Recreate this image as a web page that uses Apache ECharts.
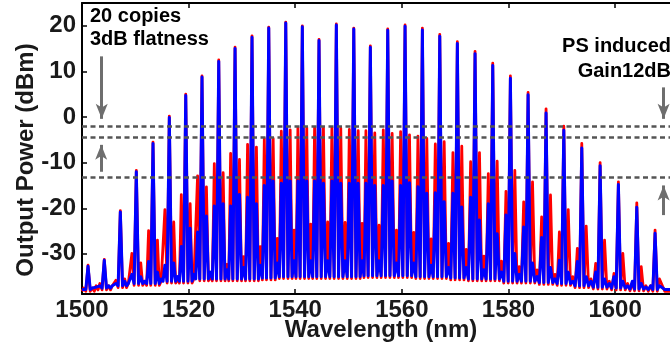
<!DOCTYPE html>
<html><head><meta charset="utf-8">
<script src="https://cdn.jsdelivr.net/npm/echarts@6/dist/echarts.min.js"></script>
<style>html,body{margin:0;padding:0;background:#fff}#c{width:670px;height:347px}</style>
</head><body><div id="c"></div>
<script>
// ---- data ----
const X_TICKS = [1500, 1520, 1540, 1560, 1580, 1600];
const Y_TICKS = [-30, -20, -10, 0, 10, 20];
// main comb lines (nm)
const MAIN_WL = [1501.13, 1504.18, 1507.19, 1510.19, 1513.32, 1516.38, 1519.46, 1522.51, 1525.65, 1528.71, 1531.89, 1535.03, 1538.22, 1541.33, 1544.46, 1547.71, 1550.98, 1554.09, 1557.35, 1560.60, 1563.85, 1567.11, 1570.41, 1573.73, 1577.05, 1580.36, 1583.68, 1587.05, 1590.38, 1593.75, 1597.19, 1600.62, 1604.07, 1607.50];
// lines half-way between main lines (nm)
const MID_WL = [1502.66, 1505.69, 1508.69, 1511.76, 1514.85, 1517.92, 1520.99, 1524.08, 1527.18, 1530.30, 1533.46, 1536.63, 1539.78, 1542.90, 1546.09, 1549.35, 1552.54, 1555.72, 1558.98, 1562.23, 1565.48, 1568.76, 1572.07, 1575.39, 1578.71, 1582.02, 1585.37, 1588.72, 1592.07, 1595.47, 1598.91, 1602.35, 1605.79];
// offset of side lines from each main line (nm)
const SIDE_OFFSET = 0.83;
// blue trace (dBm)
const BLUE_MAIN = [-32.7, -31.4, -20.8, -12.0, -5.8, -0.1, 4.7, 8.75, 12.2, 15.0, 17.5, 19.5, 20.6, 19.8, 16.8, 20.2, 19.3, 15.3, 19.0, 19.9, 19.1, 17.7, 16.1, 13.9, 11.3, 8.5, 4.9, 0.9, -2.9, -6.8, -10.7, -14.8, -19.8, -25.5];
const BLUE_L = [-37.5, -37, -36.5, -34.5, -31.7, -32.5, -28.4, -25.2, -19.5, -19.5, -17.6, -15, -14.5, -14, -14, -14, -14.5, -14.5, -15, -15, -15.3, -16.6, -16.7, -17.6, -19, -21.5, -24.1, -26.4, -31.4, -31.7, -34, -35, -36, -37];
const BLUE_R = [-37.5, -37, -36, -35, -34, -32, -24.4, -21.7, -19.0, -17, -19, -14, -14, -14, -14.5, -14.5, -14.5, -15, -14, -14.4, -16.7, -18.6, -19.7, -22.6, -25.6, -29.9, -32, -33, -34, -35, -35.5, -36, -36.5, -37];
const BLUE_MID = [-37.3, -37, -36.5, -36, -35.5, -35, -34.5, -34, -33.5, -33, -32.5, -32, -31.5, -31.5, -31.5, -31.5, -31.5, -31.5, -32, -32, -32.5, -33, -33, -33.5, -34, -34.5, -35, -35.5, -36, -36, -36.5, -37, -37.3];
const BLUE_BASE = [-37.8, -37.5, -37, -36.5, -36.5, -36, -36, -35.5, -35.5, -35.5, -35.5, -35.3, -35, -35, -35, -35, -35, -34.8, -34.8, -34.8, -35, -35, -35.3, -35.5, -35.5, -36, -36, -36.3, -36.5, -37, -37.3, -37.5, -37.7, -37.8];
// red trace (dBm)
const RED_MAIN = [-32.5, -31.2, -20.5, -11.7, -5.5, 0.2, 5.0, 9.0, 12.5, 15.3, 17.8, 19.7, 20.8, 20.0, 17.0, 20.4, 19.5, 15.6, 19.3, 20.2, 19.5, 18.1, 16.5, 14.4, 11.8, 9.0, 5.4, 1.8, -2.0, -5.8, -10.0, -14.2, -18.8, -24.8];
const RED_L = [-37.5, -36.5, -35.8, -29.9, -24.9, -20.3, -17.0, -12.9, -10.2, -8.0, -6.0, -4.7, -3.1, -2.3, -2.3, -2.3, -2.7, -3.0, -2.8, -3.2, -4.2, -5.9, -7.8, -9.8, -12.4, -16.3, -18.6, -21.9, -25.2, -28.8, -32.1, -34.3, -36.3, -37.0];
const RED_R = [-37.5, -37.0, -35.5, -32.0, -27.0, -23.0, -19.0, -15.3, -12.2, -9.3, -6.6, -4.7, -2.8, -2.3, -2.3, -2.4, -3.0, -3.5, -3.6, -3.9, -4.7, -5.4, -6.4, -7.8, -9.7, -11.7, -14.2, -17.1, -20.3, -23.9, -27.0, -29.9, -32.8, -35.5];
const RED_MID = [-37, -37, -36.5, -36, -36, -35.5, -35.5, -35, -32.3, -30.6, -28.4, -26.6, -24.8, -23.5, -23.0, -23.1, -23.3, -23.7, -24.8, -25.3, -26.7, -27.7, -29.0, -30.5, -31.6, -32.8, -33.5, -34.5, -35, -35.5, -36, -36.5, -37];
const RED_BASE = [-38.2, -37.9, -37.4, -36.9, -36.9, -36.4, -36.4, -35.9, -35.9, -35.9, -35.9, -35.7, -35.4, -35.4, -35.4, -35.4, -35.4, -35.2, -35.2, -35.2, -35.4, -35.4, -35.7, -35.9, -35.9, -36.4, -36.4, -36.7, -36.9, -37.4, -37.7, -37.9, -38.1, -38.2];
// reference levels (dBm)
const LEVELS = [-2.0, -4.5, -13.3];

const X_MIN = 1500, X_MAX = 1610.3, Y_MIN = -38.8, Y_MAX = 25;

function buildTrace(mainV, leftV, rightV, midV, baseV) {
  const lines = [];
  for (let i = 0; i < MAIN_WL.length; i++) {
    lines.push([MAIN_WL[i] - SIDE_OFFSET, leftV[i], i]);
    lines.push([MAIN_WL[i], mainV[i], i]);
    lines.push([MAIN_WL[i] + SIDE_OFFSET, rightV[i], i]);
    if (i < MID_WL.length) lines.push([MID_WL[i], midV[i], i]);
  }
  const pts = [[X_MIN, baseV[0]]];
  let prev = X_MIN;
  for (const [x, v, g] of lines) {
    pts.push([(prev + x) / 2, baseV[g]]);
    pts.push([x, v]);
    prev = x;
  }
  const last = baseV[baseV.length - 1];
  pts.push([(prev + X_MAX) / 2, last]);
  pts.push([X_MAX, last]);
  return pts;
}

const FONT = '"Liberation Sans", Arial, sans-serif';
const chart = echarts.init(document.getElementById('c'));
const axisLineStyle = { color: '#000', width: 2 };
const arrowColor = '#6e6e6e';
chart.setOption({
  animation: false,
  backgroundColor: '#fff',
  grid: { left: 82, right: 0, top: 3, bottom: 53 },
  xAxis: [{
    type: 'value', min: X_MIN, max: X_MAX, position: 'bottom',
    axisLine: { show: true, onZero: false, lineStyle: axisLineStyle },
    axisTick: { show: true, inside: true, length: 5, customValues: X_TICKS, lineStyle: { color: '#000', width: 1.5 } },
    axisLabel: { customValues: X_TICKS, margin: 4, fontSize: 24, fontWeight: 'bold', color: '#1a1a1a', fontFamily: FONT, formatter: v => String(v) },
    splitLine: { show: false }
  }, {
    type: 'value', min: X_MIN, max: X_MAX, position: 'top',
    axisLine: { show: true, onZero: false, lineStyle: axisLineStyle },
    axisTick: { show: true, inside: true, length: 5, customValues: X_TICKS, lineStyle: { color: '#000', width: 1.5 } },
    axisLabel: { show: false },
    splitLine: { show: false }
  }],
  yAxis: [{
    type: 'value', min: Y_MIN, max: Y_MAX,
    axisLine: { show: true, onZero: false, lineStyle: axisLineStyle },
    axisTick: { show: true, inside: true, length: 5, customValues: Y_TICKS, lineStyle: { color: '#000', width: 1.5 } },
    axisLabel: { customValues: Y_TICKS, margin: 6, fontSize: 24, fontWeight: 'bold', color: '#1a1a1a', fontFamily: FONT, formatter: v => String(v) },
    splitLine: { show: false }
  }],
  series: [{
    type: 'line', data: buildTrace(RED_MAIN, RED_L, RED_R, RED_MID, RED_BASE),
    symbol: 'none', silent: true, z: 2,
    lineStyle: { color: '#ff0000', width: 2.8, join: 'round' }
  }, {
    type: 'line', data: buildTrace(BLUE_MAIN, BLUE_L, BLUE_R, BLUE_MID, BLUE_BASE),
    symbol: 'none', silent: true, z: 3,
    lineStyle: { color: '#0000ff', width: 3, join: 'round' },
    markLine: {
      silent: true, symbol: ['none', 'none'], label: { show: false },
      lineStyle: { color: '#555555', width: 2.5, type: [5, 3.5] },
      data: LEVELS.map(v => ({ yAxis: v }))
    }
  }, {
    type: 'line', data: [[X_MIN, Y_MIN]], symbol: 'none', silent: true, z: 4,
    lineStyle: { width: 0, opacity: 0 },
    markLine: {
      silent: true, symbol: ['none', 'arrow'], symbolSize: [9, 15], label: { show: false },
      lineStyle: { color: arrowColor, width: 3, type: 'solid' },
      itemStyle: { color: arrowColor },
      data: [
        [{ coord: [1503.7, 13.3] }, { coord: [1503.7, -0.4] }],
        [{ coord: [1503.6, -12.0] }, { coord: [1503.6, -6.1] }],
        [{ coord: [1609.1, 6.5] }, { coord: [1609.1, -0.4] }],
        [{ coord: [1609.1, -21.5] }, { coord: [1609.1, -15.0] }]
      ]
    }
  }],
  graphic: [
    { type: 'text', x: 90, y: 6, z: 10, style: { text: '20 copies', font: 'bold 20px ' + FONT, fill: '#000', align: 'left', verticalAlign: 'top' } },
    { type: 'text', x: 90, y: 29.5, z: 10, style: { text: '3dB flatness', font: 'bold 20px ' + FONT, fill: '#000', align: 'left', verticalAlign: 'top' } },
    { type: 'text', x: 671, y: 36, z: 10, style: { text: 'PS induced', font: 'bold 20px ' + FONT, fill: '#000', align: 'right', verticalAlign: 'top' } },
    { type: 'text', x: 671, y: 61, z: 10, style: { text: 'Gain12dB', font: 'bold 20px ' + FONT, fill: '#000', align: 'right', verticalAlign: 'top' } },
    { type: 'text', x: 381, y: 318, z: 10, style: { text: 'Wavelength (nm)', font: 'bold 24px ' + FONT, fill: '#1a1a1a', align: 'center', verticalAlign: 'top' } },
    { type: 'text', x: 26, y: 160, rotation: Math.PI / 2, z: 10, style: { text: 'Output Power (dBm)', font: 'bold 24px ' + FONT, fill: '#1a1a1a', align: 'center', verticalAlign: 'middle' } }
  ]
});
</script></body></html>
